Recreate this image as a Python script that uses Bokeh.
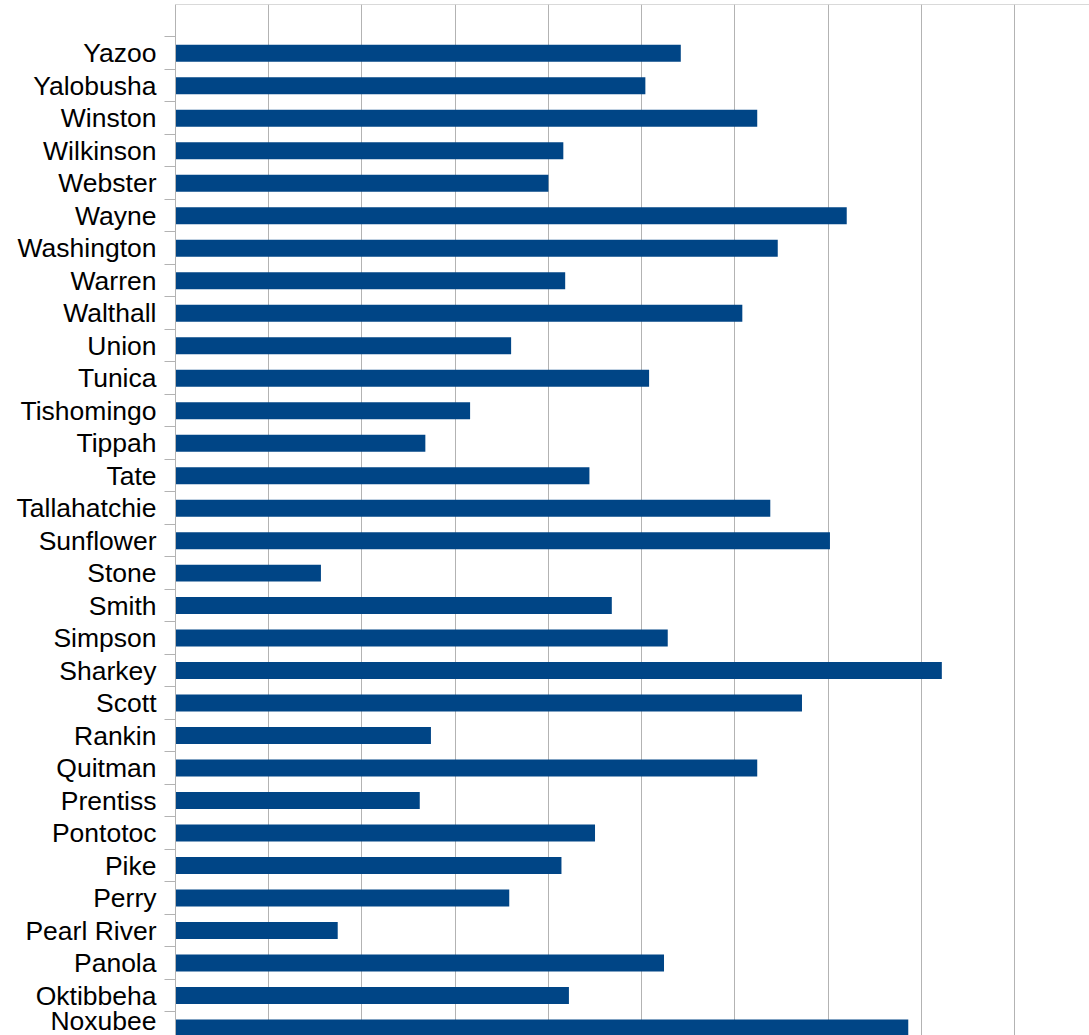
from bokeh.plotting import figure
from bokeh.models import Range1d, FixedTicker, Grid, Span, ColumnDataSource
from bokeh.embed import file_html
from bokeh.resources import INLINE

# Counties, top to bottom as shown (list continues below the visible area)
counties = ["Yazoo", "Yalobusha", "Winston", "Wilkinson", "Webster", "Wayne",
            "Washington", "Warren", "Walthall", "Union", "Tunica", "Tishomingo",
            "Tippah", "Tate", "Tallahatchie", "Sunflower", "Stone", "Smith",
            "Simpson", "Sharkey", "Scott", "Rankin", "Quitman", "Prentiss",
            "Pontotoc", "Pike", "Perry", "Pearl River", "Panola", "Oktibbeha",
            "Noxubee"]
values = [27.1, 25.2, 31.2, 20.8, 20.0, 36.0,
          32.3, 20.9, 30.4, 18.0, 25.4, 15.8,
          13.4, 22.2, 31.9, 35.1, 7.8, 23.4,
          26.4, 41.1, 33.6, 13.7, 31.2, 13.1,
          22.5, 20.7, 17.9, 8.7, 26.2, 21.1,
          39.3]
grid_ticks = [0, 5, 10, 15, 20, 25, 30, 35, 40, 45]

pos = list(range(len(counties)))
source = ColumnDataSource(dict(y=pos, v=values, name=counties))

p = figure(width=1089, height=1035, output_backend="svg", toolbar_location=None,
           x_range=Range1d(0, 49.02), y_range=Range1d(30.23, -1.5),
           x_axis_location=None, y_axis_location="left",
           min_border_left=175, min_border_right=0, min_border_top=4, min_border_bottom=0)
p.outline_line_color = None
p.background_fill_color = "white"
p.border_fill_color = "white"

p.ygrid.visible = False
p.add_layout(Grid(dimension=0, ticker=FixedTicker(ticks=grid_ticks),
                  grid_line_color="#b3b3b3", grid_line_width=1))

p.hbar(y="y", right="v", left=0, height=0.523, source=source,
       fill_color="#004586", line_color=None)

yax = p.yaxis[0]
yax.ticker = FixedTicker(ticks=pos, minor_ticks=[k - 0.5 for k in range(len(counties) + 1)])
yax.major_label_overrides = {k: n for k, n in zip(pos, counties)}
yax.major_tick_out = 0
yax.major_tick_in = 0
yax.minor_tick_out = 11
yax.minor_tick_in = 0
yax.minor_tick_line_color = "#b3b3b3"
yax.axis_line_color = "#b3b3b3"
yax.major_label_standoff = 8
yax.major_label_text_font = "Liberation Sans"
yax.major_label_text_font_size = "26.5px"
yax.major_label_text_color = "black"

p.add_layout(Span(location=-1.5, dimension="width", line_color="#b3b3b3", line_width=1))

open("out.html", "w").write(file_html(p, INLINE))
